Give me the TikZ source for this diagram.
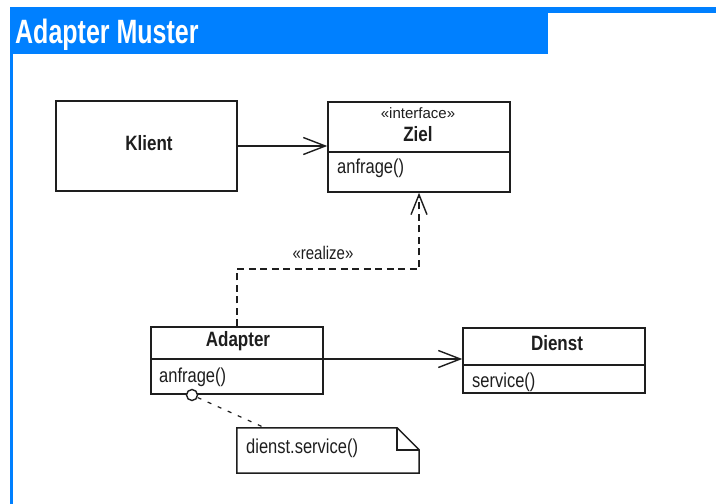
\documentclass[tikz,border=0pt]{standalone}
\usepackage{fontspec}
\setmainfont{Liberation Sans}
\usetikzlibrary{arrows.meta}
\definecolor{framblue}{RGB}{0,128,255}
\definecolor{ink}{RGB}{30,30,30}
\newcommand\tallbody[1]{\scalebox{1}[1.22]{#1}}
\newcommand\talltitle[1]{\scalebox{1}[1.35]{#1}}
\tikzset{
  classbox/.style={draw=ink, line width=1.5pt, inner sep=0pt},
  bodytext/.style={inner sep=0pt, text=ink, font=\fontsize{16.5}{19}\selectfont},
  headtext/.style={inner sep=0pt, text=ink, font=\fontsize{17}{20}\selectfont\bfseries},
  stereotext/.style={inner sep=0pt, text=ink, font=\fontsize{15}{18}\selectfont},
  assoc/.style={draw=ink, line width=1.4pt, -{Straight Barb[length=22pt,width=17pt,line width=1.4pt]}},
  realizes/.style={draw=ink, line width=1.4pt, dash pattern=on 7pt off 4.5pt,
    -{Straight Barb[length=20pt,width=16pt,line width=1.4pt]}},
  notelink/.style={draw=ink, line width=1.2pt, dash pattern=on 4pt off 7pt},
}
\begin{document}
\begin{tikzpicture}[x=1pt,y=-1pt]
\useasboundingbox (0,0) rectangle (716,504);
\fill[white] (0,0) rectangle (716,504);

% blue frame with title tab
\fill[framblue] (10,7) rectangle (716,13);
\fill[framblue] (10,7) rectangle (13,504);
\fill[framblue] (10,7) rectangle (548,54);
\node[anchor=base west, inner sep=0pt, text=white,
      font=\fontsize{25}{28}\selectfont\bfseries] (title) at (15,43)
      {\talltitle{Adapter Muster}};

% Klient
\node[classbox, minimum width=181pt, minimum height=90pt] (klient) at (146.5,146) {};
\node[headtext] (klientname) at (149,143) {\tallbody{Klient}};

% Ziel (interface)
\node[classbox, minimum width=182pt, minimum height=90pt] (ziel) at (419,147) {};
\coordinate (zdiv) at (419,152);
\draw[ink, line width=1.5pt] (ziel.west |- zdiv) -- (ziel.east |- zdiv);
\node[stereotext] (zielstereo) at (418,113.5) {«interface»};
\node[headtext] (zielname) at (418,134) {\tallbody{Ziel}};
\node[bodytext, anchor=west] (zielop) at (337,168) {\tallbody{anfrage()}};

% Adapter
\node[classbox, minimum width=172pt, minimum height=67pt] (adapter) at (237,360.5) {};
\coordinate (adiv) at (237,359);
\draw[ink, line width=1.5pt] (adapter.west |- adiv) -- (adapter.east |- adiv);
\node[headtext] (adaptername) at (238,341) {\tallbody{Adapter}};
\node[bodytext, anchor=west] (adapterop) at (159,377) {\tallbody{anfrage()}};

% Dienst
\node[classbox, minimum width=182pt, minimum height=65pt] (dienst) at (554,360.5) {};
\coordinate (ddiv) at (554,365);
\draw[ink, line width=1.5pt] (dienst.west |- ddiv) -- (dienst.east |- ddiv);
\node[headtext] (dienstname) at (557,343) {\tallbody{Dienst}};
\node[bodytext, anchor=west] (dienstop) at (472,382) {\tallbody{service()}};

% note with folded corner
\node[minimum width=182pt, minimum height=45pt, inner sep=0pt] (note) at (328,450.5) {};
\draw[ink, line width=1.5pt]
  (note.north west) -- ([xshift=-22pt]note.north east)
  -- ([yshift=-22pt]note.north east) -- (note.south east)
  -- (note.south west) -- cycle;
\draw[ink, line width=1.5pt]
  ([xshift=-22pt]note.north east) -- ([xshift=-22pt,yshift=-22pt]note.north east)
  -- ([yshift=-22pt]note.north east);
\node[bodytext, anchor=west] (notetext) at (246,448) {\tallbody{dienst.service()}};

% connectors
\draw[assoc] (klient.east) -- (klient.east -| ziel.west);
\draw[assoc] (adapter.east |- adiv) -- (dienst.west |- adiv);
\coordinate (bend) at (330,269);
\draw[realizes] (adapter.north) |- (bend) -| (ziel.south);
\node[stereotext] (realizelabel) at (323,253) {\tallbody{«realize»}};

\node[circle, draw=ink, line width=1.4pt, fill=white, minimum size=11pt, inner sep=0pt]
  (anchorpt) at (192,395) {};
\coordinate (noteend) at (263,427);
\draw[notelink] (anchorpt) -- (noteend);
\end{tikzpicture}
\end{document}
